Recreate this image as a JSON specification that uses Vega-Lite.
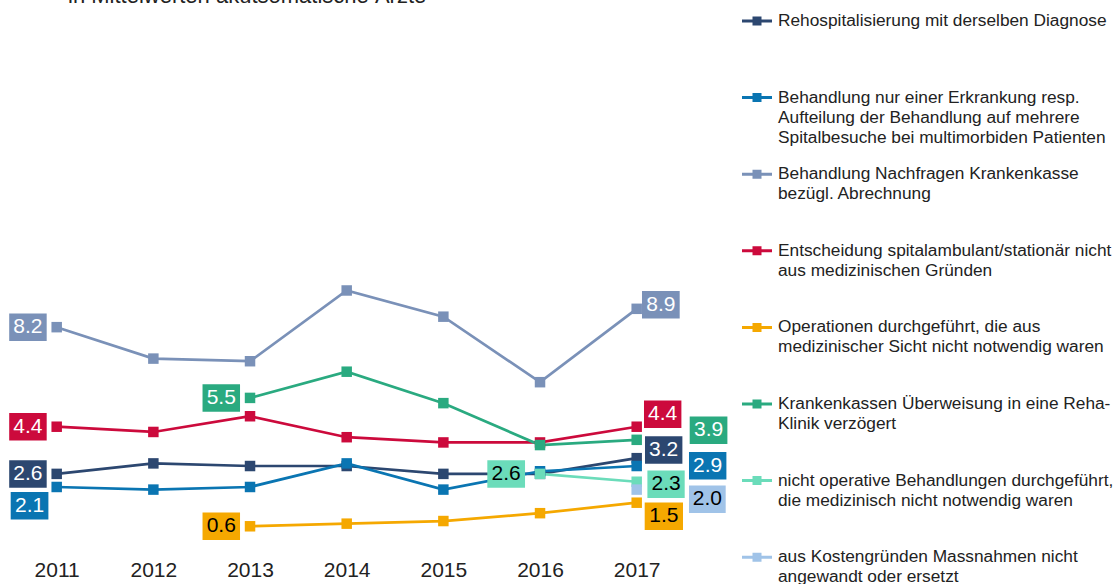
{
  "$schema": "https://vega.github.io/schema/vega-lite/v6.json",
  "width": 1115,
  "height": 524,
  "autosize": {"type": "none"},
  "padding": {"left": 0, "top": 18, "right": 0, "bottom": 42},
  "background": "white",
  "config": {
    "view": {"stroke": null},
    "font": "Liberation Sans",
    "style": {"guide-label": {"lineHeight": 20}}
  },
  "params": [
    {
      "name": "legendLines",
      "value": {
        "Rehospitalisierung mit derselben Diagnose": ["Rehospitalisierung mit derselben Diagnose", "", ""],
        "Behandlung nur einer Erkrankung resp. Aufteilung der Behandlung auf mehrere Spitalbesuche bei multimorbiden Patienten": ["Behandlung nur einer Erkrankung resp.", "Aufteilung der Behandlung auf mehrere", "Spitalbesuche bei multimorbiden Patienten"],
        "Behandlung Nachfragen Krankenkasse bezügl. Abrechnung": ["Behandlung Nachfragen Krankenkasse", "bezügl. Abrechnung", ""],
        "Entscheidung spitalambulant/stationär nicht aus medizinischen Gründen": ["Entscheidung spitalambulant/stationär nicht", "aus medizinischen Gründen", ""],
        "Operationen durchgeführt, die aus medizinischer Sicht nicht notwendig waren": ["Operationen durchgeführt, die aus", "medizinischer Sicht nicht notwendig waren", ""],
        "Krankenkassen Überweisung in eine Reha-Klinik verzögert": ["Krankenkassen Überweisung in eine Reha-", "Klinik verzögert", ""],
        "nicht operative Behandlungen durchgeführt, die medizinisch nicht notwendig waren": ["nicht operative Behandlungen durchgeführt,", "die medizinisch nicht notwendig waren", ""],
        "aus Kostengründen Massnahmen nicht angewandt oder ersetzt": ["aus Kostengründen Massnahmen nicht", "angewandt oder ersetzt", ""]
      }
    }
  ],
  "title": {
    "text": "in Mittelwerten akutsomatische Ärzte",
    "anchor": "start",
    "frame": "group",
    "dx": 68,
    "fontSize": 22,
    "font": "Liberation Sans",
    "fontWeight": "normal",
    "color": "#222222",
    "baseline": "alphabetic",
    "offset": -18.5
  },
  "data": {
    "values": [
      {"series": "Rehospitalisierung mit derselben Diagnose", "year": 2011, "value": 2.6},
      {"series": "Rehospitalisierung mit derselben Diagnose", "year": 2012, "value": 3.0},
      {"series": "Rehospitalisierung mit derselben Diagnose", "year": 2013, "value": 2.9},
      {"series": "Rehospitalisierung mit derselben Diagnose", "year": 2014, "value": 2.9},
      {"series": "Rehospitalisierung mit derselben Diagnose", "year": 2015, "value": 2.6},
      {"series": "Rehospitalisierung mit derselben Diagnose", "year": 2016, "value": 2.6},
      {"series": "Rehospitalisierung mit derselben Diagnose", "year": 2017, "value": 3.2},
      {"series": "Behandlung nur einer Erkrankung resp. Aufteilung der Behandlung auf mehrere Spitalbesuche bei multimorbiden Patienten", "year": 2011, "value": 2.1},
      {"series": "Behandlung nur einer Erkrankung resp. Aufteilung der Behandlung auf mehrere Spitalbesuche bei multimorbiden Patienten", "year": 2012, "value": 2.0},
      {"series": "Behandlung nur einer Erkrankung resp. Aufteilung der Behandlung auf mehrere Spitalbesuche bei multimorbiden Patienten", "year": 2013, "value": 2.1},
      {"series": "Behandlung nur einer Erkrankung resp. Aufteilung der Behandlung auf mehrere Spitalbesuche bei multimorbiden Patienten", "year": 2014, "value": 3.0},
      {"series": "Behandlung nur einer Erkrankung resp. Aufteilung der Behandlung auf mehrere Spitalbesuche bei multimorbiden Patienten", "year": 2015, "value": 2.0},
      {"series": "Behandlung nur einer Erkrankung resp. Aufteilung der Behandlung auf mehrere Spitalbesuche bei multimorbiden Patienten", "year": 2016, "value": 2.7},
      {"series": "Behandlung nur einer Erkrankung resp. Aufteilung der Behandlung auf mehrere Spitalbesuche bei multimorbiden Patienten", "year": 2017, "value": 2.9},
      {"series": "Behandlung Nachfragen Krankenkasse bezügl. Abrechnung", "year": 2011, "value": 8.2},
      {"series": "Behandlung Nachfragen Krankenkasse bezügl. Abrechnung", "year": 2012, "value": 7.0},
      {"series": "Behandlung Nachfragen Krankenkasse bezügl. Abrechnung", "year": 2013, "value": 6.9},
      {"series": "Behandlung Nachfragen Krankenkasse bezügl. Abrechnung", "year": 2014, "value": 9.6},
      {"series": "Behandlung Nachfragen Krankenkasse bezügl. Abrechnung", "year": 2015, "value": 8.6},
      {"series": "Behandlung Nachfragen Krankenkasse bezügl. Abrechnung", "year": 2016, "value": 6.1},
      {"series": "Behandlung Nachfragen Krankenkasse bezügl. Abrechnung", "year": 2017, "value": 8.9},
      {"series": "Entscheidung spitalambulant/stationär nicht aus medizinischen Gründen", "year": 2011, "value": 4.4},
      {"series": "Entscheidung spitalambulant/stationär nicht aus medizinischen Gründen", "year": 2012, "value": 4.2},
      {"series": "Entscheidung spitalambulant/stationär nicht aus medizinischen Gründen", "year": 2013, "value": 4.8},
      {"series": "Entscheidung spitalambulant/stationär nicht aus medizinischen Gründen", "year": 2014, "value": 4.0},
      {"series": "Entscheidung spitalambulant/stationär nicht aus medizinischen Gründen", "year": 2015, "value": 3.8},
      {"series": "Entscheidung spitalambulant/stationär nicht aus medizinischen Gründen", "year": 2016, "value": 3.8},
      {"series": "Entscheidung spitalambulant/stationär nicht aus medizinischen Gründen", "year": 2017, "value": 4.4},
      {"series": "Operationen durchgeführt, die aus medizinischer Sicht nicht notwendig waren", "year": 2013, "value": 0.6},
      {"series": "Operationen durchgeführt, die aus medizinischer Sicht nicht notwendig waren", "year": 2014, "value": 0.7},
      {"series": "Operationen durchgeführt, die aus medizinischer Sicht nicht notwendig waren", "year": 2015, "value": 0.8},
      {"series": "Operationen durchgeführt, die aus medizinischer Sicht nicht notwendig waren", "year": 2016, "value": 1.1},
      {"series": "Operationen durchgeführt, die aus medizinischer Sicht nicht notwendig waren", "year": 2017, "value": 1.5},
      {"series": "Krankenkassen Überweisung in eine Reha-Klinik verzögert", "year": 2013, "value": 5.5},
      {"series": "Krankenkassen Überweisung in eine Reha-Klinik verzögert", "year": 2014, "value": 6.5},
      {"series": "Krankenkassen Überweisung in eine Reha-Klinik verzögert", "year": 2015, "value": 5.3},
      {"series": "Krankenkassen Überweisung in eine Reha-Klinik verzögert", "year": 2016, "value": 3.7},
      {"series": "Krankenkassen Überweisung in eine Reha-Klinik verzögert", "year": 2017, "value": 3.9},
      {"series": "nicht operative Behandlungen durchgeführt, die medizinisch nicht notwendig waren", "year": 2016, "value": 2.6},
      {"series": "nicht operative Behandlungen durchgeführt, die medizinisch nicht notwendig waren", "year": 2017, "value": 2.3},
      {"series": "aus Kostengründen Massnahmen nicht angewandt oder ersetzt", "year": 2017, "value": 2.0}
    ]
  },
  "encoding": {
    "x": {
      "field": "year",
      "type": "quantitative",
      "scale": {"domain": [2010.4135, 2021.948], "nice": false, "zero": false},
      "axis": {
        "values": [2011, 2012, 2013, 2014, 2015, 2016, 2017],
        "format": "d",
        "title": null,
        "domain": false,
        "ticks": false,
        "grid": false,
        "labelFontSize": 21,
        "labelFont": "Liberation Sans",
        "labelColor": "#222222",
        "labelPadding": 17,
        "labelFlush": false
      }
    },
    "y": {
      "field": "value",
      "type": "quantitative",
      "scale": {"domain": [0, 20], "nice": false, "zero": false},
      "axis": null
    },
    "color": {
      "field": "series",
      "type": "nominal",
      "scale": {
        "domain": [
          "Rehospitalisierung mit derselben Diagnose",
          "Behandlung nur einer Erkrankung resp. Aufteilung der Behandlung auf mehrere Spitalbesuche bei multimorbiden Patienten",
          "Behandlung Nachfragen Krankenkasse bezügl. Abrechnung",
          "Entscheidung spitalambulant/stationär nicht aus medizinischen Gründen",
          "Operationen durchgeführt, die aus medizinischer Sicht nicht notwendig waren",
          "Krankenkassen Überweisung in eine Reha-Klinik verzögert",
          "nicht operative Behandlungen durchgeführt, die medizinisch nicht notwendig waren",
          "aus Kostengründen Massnahmen nicht angewandt oder ersetzt"
        ],
        "range": ["#2C4770", "#0A75B2", "#7A91B8", "#CC0A3C", "#F5A800", "#2AAA80", "#6BDCBA", "#A0C3E8"]
      },
      "legend": {
        "orient": "none",
        "legendX": 742,
        "legendY": -12,
        "title": null,
        "symbolType": "M-1,-0.1L1,-0.1L1,0.1L-1,0.1Z M-0.3,-0.3L0.3,-0.3L0.3,0.3L-0.3,0.3Z",
        "symbolSize": 900,
        "symbolStrokeWidth": 0,
        "symbolOpacity": 1,
        "labelExpr": "legendLines[datum.label]",
        "labelFontSize": 17.3,
        "labelFont": "Liberation Sans",
        "labelColor": "#222222",
        "labelLimit": 600,
        "labelBaseline": "middle",
        "labelOffset": 6,
        "rowPadding": 12.6,
        "padding": 0,
        "direction": "vertical"
      }
    }
  },
  "layer": [
    {
      "mark": {"type": "line", "strokeWidth": 2.7}
    },
    {
      "mark": {"type": "point", "shape": "square", "filled": true, "size": 110, "opacity": 1}
    },
    {
      "transform": [{"filter": "(datum.year == 2011 && datum.value != 2.1) || (datum.year == 2013 && (datum.value == 5.5 || datum.value == 0.6))"}],
      "mark": {"type": "rect", "xOffset": -47.5, "x2Offset": -10, "yOffset": -13.75, "y2Offset": 13.75},
      "encoding": {"x2": {"field": "year"}, "y2": {"field": "value"}}
    },
    {
      "transform": [{"filter": "(datum.year == 2011 && datum.value != 2.1) || (datum.year == 2013 && (datum.value == 5.5 || datum.value == 0.6))"}],
      "mark": {"type": "text", "dx": -28.75, "dy": 0, "fontSize": 21, "font": "Liberation Sans", "align": "center", "baseline": "middle"},
      "encoding": {
        "text": {"field": "value", "type": "quantitative", "format": ".1f"},
        "color": {"condition": {"test": "datum.value < 1", "value": "#000000"}, "value": "#ffffff"}
      }
    },
    {
      "transform": [{"filter": "datum.year == 2011 && datum.value == 2.1"}],
      "mark": {"type": "rect", "xOffset": -46, "x2Offset": -8.3, "yOffset": 5, "y2Offset": 32.5},
      "encoding": {"x2": {"field": "year"}, "y2": {"field": "value"}}
    },
    {
      "transform": [{"filter": "datum.year == 2011 && datum.value == 2.1"}],
      "mark": {"type": "text", "dx": -27.15, "dy": 18.75, "fontSize": 21, "font": "Liberation Sans", "align": "center", "baseline": "middle"},
      "encoding": {"text": {"field": "value", "type": "quantitative", "format": ".1f"}, "color": {"value": "#ffffff"}}
    },
    {
      "transform": [{"filter": "datum.year == 2016 && indexof(datum.series, 'nicht operative') == 0"}],
      "mark": {"type": "rect", "xOffset": -52.7, "x2Offset": -15, "yOffset": -13.75, "y2Offset": 13.75},
      "encoding": {"x2": {"field": "year"}, "y2": {"field": "value"}}
    },
    {
      "transform": [{"filter": "datum.year == 2016 && indexof(datum.series, 'nicht operative') == 0"}],
      "mark": {"type": "text", "dx": -33.85, "dy": 0, "fontSize": 21, "font": "Liberation Sans", "align": "center", "baseline": "middle"},
      "encoding": {"text": {"field": "value", "type": "quantitative", "format": ".1f"}, "color": {"value": "#000000"}}
    },
    {
      "transform": [{"filter": "datum.year == 2017 && datum.value == 8.9"}],
      "mark": {"type": "rect", "xOffset": 5.3, "x2Offset": 43, "yOffset": -17.75, "y2Offset": 9.75},
      "encoding": {"x2": {"field": "year"}, "y2": {"field": "value"}}
    },
    {
      "transform": [{"filter": "datum.year == 2017 && datum.value == 8.9"}],
      "mark": {"type": "text", "dx": 24.15, "dy": -4, "fontSize": 21, "font": "Liberation Sans", "align": "center", "baseline": "middle"},
      "encoding": {"text": {"field": "value", "type": "quantitative", "format": ".1f"}, "color": {"value": "#ffffff"}}
    },
    {
      "transform": [{"filter": "datum.year == 2017 && datum.value == 4.4"}],
      "mark": {"type": "rect", "xOffset": 7.3, "x2Offset": 44.7, "yOffset": -26.15, "y2Offset": 1.35},
      "encoding": {"x2": {"field": "year"}, "y2": {"field": "value"}}
    },
    {
      "transform": [{"filter": "datum.year == 2017 && datum.value == 4.4"}],
      "mark": {"type": "text", "dx": 26, "dy": -12.4, "fontSize": 21, "font": "Liberation Sans", "align": "center", "baseline": "middle"},
      "encoding": {"text": {"field": "value", "type": "quantitative", "format": ".1f"}, "color": {"value": "#ffffff"}}
    },
    {
      "transform": [{"filter": "datum.year == 2017 && datum.value == 3.9"}],
      "mark": {"type": "rect", "xOffset": 53, "x2Offset": 90.7, "yOffset": -23.25, "y2Offset": 4.25},
      "encoding": {"x2": {"field": "year"}, "y2": {"field": "value"}}
    },
    {
      "transform": [{"filter": "datum.year == 2017 && datum.value == 3.9"}],
      "mark": {"type": "text", "dx": 71.85, "dy": -9.5, "fontSize": 21, "font": "Liberation Sans", "align": "center", "baseline": "middle"},
      "encoding": {"text": {"field": "value", "type": "quantitative", "format": ".1f"}, "color": {"value": "#ffffff"}}
    },
    {
      "transform": [{"filter": "datum.year == 2017 && datum.value == 3.2"}],
      "mark": {"type": "rect", "xOffset": 8.3, "x2Offset": 45.7, "yOffset": -21.95, "y2Offset": 5.55},
      "encoding": {"x2": {"field": "year"}, "y2": {"field": "value"}}
    },
    {
      "transform": [{"filter": "datum.year == 2017 && datum.value == 3.2"}],
      "mark": {"type": "text", "dx": 27, "dy": -8.2, "fontSize": 21, "font": "Liberation Sans", "align": "center", "baseline": "middle"},
      "encoding": {"text": {"field": "value", "type": "quantitative", "format": ".1f"}, "color": {"value": "#ffffff"}}
    },
    {
      "transform": [{"filter": "datum.year == 2017 && datum.value == 2.9"}],
      "mark": {"type": "rect", "xOffset": 52.3, "x2Offset": 89.7, "yOffset": -14, "y2Offset": 13.5},
      "encoding": {"x2": {"field": "year"}, "y2": {"field": "value"}}
    },
    {
      "transform": [{"filter": "datum.year == 2017 && datum.value == 2.9"}],
      "mark": {"type": "text", "dx": 71, "dy": -0.25, "fontSize": 21, "font": "Liberation Sans", "align": "center", "baseline": "middle"},
      "encoding": {"text": {"field": "value", "type": "quantitative", "format": ".1f"}, "color": {"value": "#ffffff"}}
    },
    {
      "transform": [{"filter": "datum.year == 2017 && datum.value == 2.3"}],
      "mark": {"type": "rect", "xOffset": 10.7, "x2Offset": 48, "yOffset": -11.25, "y2Offset": 16.25},
      "encoding": {"x2": {"field": "year"}, "y2": {"field": "value"}}
    },
    {
      "transform": [{"filter": "datum.year == 2017 && datum.value == 2.3"}],
      "mark": {"type": "text", "dx": 29.35, "dy": 2.5, "fontSize": 21, "font": "Liberation Sans", "align": "center", "baseline": "middle"},
      "encoding": {"text": {"field": "value", "type": "quantitative", "format": ".1f"}, "color": {"value": "#000000"}}
    },
    {
      "transform": [{"filter": "datum.year == 2017 && datum.value == 2.0"}],
      "mark": {"type": "rect", "xOffset": 52.3, "x2Offset": 89, "yOffset": -4.05, "y2Offset": 23.45},
      "encoding": {"x2": {"field": "year"}, "y2": {"field": "value"}}
    },
    {
      "transform": [{"filter": "datum.year == 2017 && datum.value == 2.0"}],
      "mark": {"type": "text", "dx": 70.65, "dy": 9.7, "fontSize": 21, "font": "Liberation Sans", "align": "center", "baseline": "middle"},
      "encoding": {"text": {"field": "value", "type": "quantitative", "format": ".1f"}, "color": {"value": "#000000"}}
    },
    {
      "transform": [{"filter": "datum.year == 2017 && datum.value == 1.5"}],
      "mark": {"type": "rect", "xOffset": 8, "x2Offset": 46.3, "yOffset": -0.15, "y2Offset": 27.35},
      "encoding": {"x2": {"field": "year"}, "y2": {"field": "value"}}
    },
    {
      "transform": [{"filter": "datum.year == 2017 && datum.value == 1.5"}],
      "mark": {"type": "text", "dx": 27.15, "dy": 13.6, "fontSize": 21, "font": "Liberation Sans", "align": "center", "baseline": "middle"},
      "encoding": {"text": {"field": "value", "type": "quantitative", "format": ".1f"}, "color": {"value": "#000000"}}
    }
  ]
}
